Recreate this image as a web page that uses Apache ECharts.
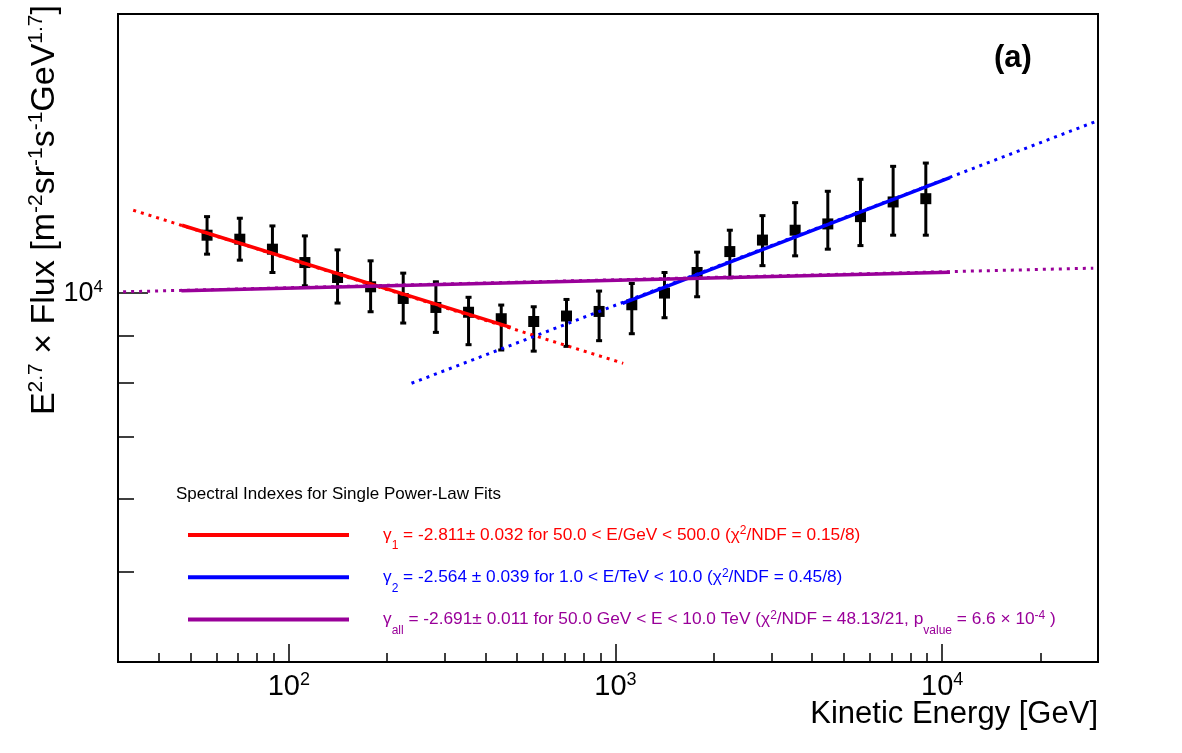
<!DOCTYPE html>
<html>
<head>
<meta charset="utf-8">
<script src="https://cdn.jsdelivr.net/npm/echarts@6/dist/echarts.min.js"></script>
<style>
html, body { margin: 0; padding: 0; background: #fff; }
#chart { width: 1182px; height: 753px; }
</style>
</head>
<body>
<div id="chart"></div>
<script>
// measured points (GeV, E^2.7 x flux)
var energy = [56.2, 70.8, 89.1, 112, 141, 178, 224, 282, 355, 447, 562, 708, 891,
    1122, 1413, 1778, 2239, 2818, 3548, 4467, 5623, 7079, 8913];
var flux = [11546, 11432, 11152, 10788, 10394, 10157, 9867, 9649, 9535, 9383, 9318, 9446, 9554,
    9714, 10000, 10524, 11086, 11407, 11690, 11874, 12091, 12540, 12642];
var fluxLow = [11015, 10852, 10524, 10183, 9755, 9547, 9283, 9070, 8797, 8682, 8657, 8760, 8885,
    9040, 9406, 9909, 10387, 10705, 10969, 11152, 11252, 11546, 11546];
var fluxHigh = [12091, 12043, 11815, 11526, 11133, 10834, 10508, 10284, 9896, 9707, 9666, 9843, 10050,
    10241, 10524, 11070, 11690, 12121, 12518, 12877, 13265, 13700, 13812];

// power-law fit lines, end points
var fit1Solid = [[47.1, 11836], [478, 9183]];
var fit1Dotted = [[33.4, 12284], [1056, 8399]];
var fit2Solid = [[1051, 9746], [10565, 13318]];
var fit2Dotted = [[237.5, 7993], [29730, 15328]];
var fitAllSolid = [[46.9, 10057], [10565, 10534]];
var fitAllDotted = [[31.1, 10032], [29020, 10639]];

// axis ticks
var xRange = [30, 30000];
var yRange = [4000, 20000];
var xMajor = [100, 1000, 10000];
var xMinor = [40, 50, 60, 70, 80, 90, 200, 300, 400, 500, 600, 700, 800, 900,
    2000, 3000, 4000, 5000, 6000, 7000, 8000, 9000, 20000];
var yMajor = [10000];
var yMinor = [5000, 6000, 7000, 8000, 9000];

var RED = '#ff0000', BLUE = '#0000ff', PURPLE = '#990099';
var FONT = "'Liberation Sans', Arial, Helvetica, sans-serif";

function lg(v) { return Math.log10(v); }
function pts(arr) { return arr.map(function (p) { return [lg(p[0]), lg(p[1])]; }); }
function powLabel(v) { return '10{sup|' + Math.round(v) + '}'; }

var legendText = {
    fit1: '{gap|}{r|γ}{rs|1}{r| = -2.811± 0.032 for 50.0 < E/GeV < 500.0 (χ}{ru|2}{r|/NDF = 0.15/8)}',
    fit2: '{gap|}{b|γ}{bs|2}{b| = -2.564 ± 0.039 for 1.0 < E/TeV < 10.0 (χ}{bu|2}{b|/NDF = 0.45/8)}',
    fitAll: '{gap|}{p|γ}{ps|all}{p| = -2.691± 0.011 for 50.0 GeV < E < 10.0 TeV (χ}{pu|2}{p|/NDF = 48.13/21, p}{ps|value}{p| = 6.6 × 10}{pu|-4}{p| )}'
};

function legendRich() {
    var r = { gap: { width: 29, lineHeight: 32 } };
    [['r', RED], ['b', BLUE], ['p', PURPLE]].forEach(function (c) {
        r[c[0]] = { color: c[1], fontSize: 17.3, lineHeight: 32, fontFamily: FONT };
        r[c[0] + 's'] = { color: c[1], fontSize: 12, height: 10, lineHeight: 10, verticalAlign: 'bottom', fontFamily: FONT };
        r[c[0] + 'u'] = { color: c[1], fontSize: 12, height: 24, lineHeight: 24, verticalAlign: 'top', fontFamily: FONT };
    });
    return r;
}

function fitLine(name, data, color, dotted) {
    return {
        name: name,
        type: 'line',
        data: pts(data),
        symbol: 'none',
        showSymbol: false,
        z: dotted ? 4 : 5,
        itemStyle: { color: color },
        lineStyle: { color: color, width: dotted ? 3 : 3.5, type: dotted ? [3, 5] : 'solid', cap: 'butt' }
    };
}

var chart = echarts.init(document.getElementById('chart'));

var option = {
    animation: false,
    backgroundColor: '#fff',
    textStyle: { fontFamily: FONT },
    title: [
        {
            text: '(a)', left: 994, top: 43, padding: 0,
            textStyle: { fontSize: 31, fontWeight: 'bold', color: '#000', fontFamily: FONT }
        },
        {
            text: 'Spectral Indexes for Single Power-Law Fits', left: 176, top: 486, padding: 0,
            textStyle: { fontSize: 17, fontWeight: 'normal', color: '#000', fontFamily: FONT }
        }
    ],
    legend: {
        orient: 'vertical',
        left: 188,
        top: 519,
        padding: 0,
        itemGap: 9.3,
        itemWidth: 161,
        itemHeight: 4,
        icon: 'rect',
        selectedMode: false,
        data: ['fit1', 'fit2', 'fitAll'],
        formatter: function (name) { return legendText[name]; },
        textStyle: { rich: legendRich() }
    },
    grid: {
        left: 118, right: 84, top: 14, bottom: 91,
        show: true, borderColor: '#000', borderWidth: 2, backgroundColor: 'transparent'
    },
    xAxis: [
        {
            type: 'value', position: 'bottom', min: lg(xRange[0]), max: lg(xRange[1]),
            axisLine: { lineStyle: { color: '#000', width: 2 } },
            axisTick: { inside: true, length: 9, customValues: xMinor.map(lg), lineStyle: { color: '#000', width: 1.5 } },
            axisLabel: { show: false },
            splitLine: { show: false }
        },
        {
            type: 'value', position: 'bottom', min: lg(xRange[0]), max: lg(xRange[1]),
            axisLine: { show: false },
            axisTick: { inside: true, length: 18, customValues: xMajor.map(lg), lineStyle: { color: '#000', width: 1.5 } },
            axisLabel: {
                customValues: xMajor.map(lg), margin: 9, color: '#000',
                formatter: powLabel,
                rich: {
                    sup: { fontSize: 18, lineHeight: 19, verticalAlign: 'top', color: '#000', fontFamily: FONT }
                },
                fontSize: 29, lineHeight: 32, fontFamily: FONT
            },
            splitLine: { show: false }
        }
    ],
    yAxis: [
        {
            type: 'value', position: 'left', min: lg(yRange[0]), max: lg(yRange[1]),
            axisLine: { lineStyle: { color: '#000', width: 2 } },
            axisTick: { inside: true, length: 16, customValues: yMinor.map(lg), lineStyle: { color: '#000', width: 1.5 } },
            axisLabel: { show: false },
            splitLine: { show: false }
        },
        {
            type: 'value', position: 'left', min: lg(yRange[0]), max: lg(yRange[1]),
            axisLine: { show: false },
            axisTick: { inside: true, length: 30, customValues: yMajor.map(lg), lineStyle: { color: '#000', width: 1.5 } },
            axisLabel: {
                customValues: yMajor.map(lg), margin: 15, color: '#000',
                formatter: powLabel,
                rich: {
                    sup: { fontSize: 17, lineHeight: 17, verticalAlign: 'top', color: '#000', fontFamily: FONT }
                },
                fontSize: 27, lineHeight: 28, fontFamily: FONT
            },
            splitLine: { show: false }
        }
    ],
    graphic: [
        {
            type: 'text', x: 45, y: 5, rotation: Math.PI / 2,
            style: {
                text: '{n|E}{s|2.7}{n| × Flux [m}{s|-2}{n|sr}{s|-1}{n|s}{s|-1}{n|GeV}{s|1.7}{n|]}',
                align: 'right', verticalAlign: 'middle',
                rich: {
                    n: { fontSize: 34, lineHeight: 38, fill: '#000', fontFamily: FONT },
                    s: { fontSize: 21, lineHeight: 24, verticalAlign: 'top', fill: '#000', fontFamily: FONT }
                }
            }
        },
        {
            type: 'text', x: 1098, y: 714,
            style: {
                text: 'Kinetic Energy [GeV]', align: 'right', verticalAlign: 'middle',
                fontSize: 31, fill: '#000', fontFamily: FONT
            }
        }
    ],
    series: [
        {
            name: 'errors',
            type: 'custom',
            z: 2,
            data: energy.map(function (e, i) { return [lg(e), lg(fluxLow[i]), lg(fluxHigh[i])]; }),
            encode: { x: 0, y: [1, 2] },
            renderItem: function (params, api) {
                var lo = api.coord([api.value(0), api.value(1)]);
                var hi = api.coord([api.value(0), api.value(2)]);
                var st = { stroke: '#000', lineWidth: 3 };
                return {
                    type: 'group',
                    children: [
                        { type: 'line', shape: { x1: lo[0], y1: lo[1], x2: hi[0], y2: hi[1] }, style: st },
                        { type: 'line', shape: { x1: lo[0] - 3, y1: lo[1], x2: lo[0] + 3, y2: lo[1] }, style: st },
                        { type: 'line', shape: { x1: hi[0] - 3, y1: hi[1], x2: hi[0] + 3, y2: hi[1] }, style: st }
                    ]
                };
            }
        },
        {
            name: 'data',
            type: 'scatter',
            z: 3,
            symbol: 'rect',
            symbolSize: 11,
            itemStyle: { color: '#000', opacity: 1 },
            data: energy.map(function (e, i) { return [lg(e), lg(flux[i])]; })
        },
        fitLine('fit1 ext', fit1Dotted, RED, true),
        fitLine('fit2 ext', fit2Dotted, BLUE, true),
        fitLine('fitAll ext', fitAllDotted, PURPLE, true),
        fitLine('fit1', fit1Solid, RED, false),
        fitLine('fit2', fit2Solid, BLUE, false),
        fitLine('fitAll', fitAllSolid, PURPLE, false)
    ]
};

chart.setOption(option);
</script>
</body>
</html>
